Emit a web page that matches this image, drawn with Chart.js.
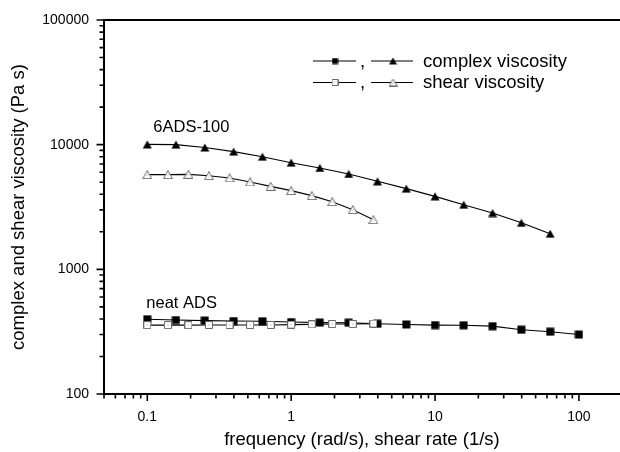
<!DOCTYPE html>
<html>
<head>
<meta charset="utf-8">
<script src="https://cdn.jsdelivr.net/npm/chart.js@4"></script>
<style>
  html, body { margin: 0; padding: 0; background: #fff; overflow: hidden; }
  #wrap { width: 620px; height: 452px; }
</style>
</head>
<body>
<div id="wrap"><canvas id="chart" width="620" height="452"></canvas></div>
<script>
// oscillatory frequency sweep (complex viscosity)
const freq6ADS = [0.1, 0.158, 0.251, 0.398, 0.631, 1, 1.58, 2.51, 3.98, 6.31, 10, 15.8, 25.1, 39.8, 63.1];
const complex6ADS = [10050, 10000, 9500, 8800, 8000, 7170, 6500, 5820, 5080, 4440, 3850, 3300, 2830, 2360, 1930];

const freqNeat = [0.1, 0.158, 0.251, 0.398, 0.631, 1, 1.58, 2.51, 3.98, 6.31, 10, 15.8, 25.1, 39.8, 63.1, 100];
const complexNeat = [398, 392, 388, 385, 383, 378, 374, 373, 366, 361, 357, 356, 350, 328, 316, 300];

// steady shear (shear viscosity)
const shearRate = [0.1, 0.139, 0.193, 0.268, 0.373, 0.518, 0.72, 1, 1.39, 1.93, 2.68, 3.73];
const shear6ADS = [5750, 5750, 5780, 5640, 5410, 5020, 4630, 4280, 3900, 3490, 3010, 2500];
const shearNeat = [357, 357, 357, 358, 358, 358, 358, 360, 362, 364, 364, 367];

const seriesLabels = ['complex viscosity', 'shear viscosity'];
const sampleLabels = ['6ADS-100', 'neat ADS'];

const X_MIN = 0.05, X_MAX = 193, Y_MIN = 100, Y_MAX = 100000;
const FONT = "'Liberation Sans', Arial, Helvetica, sans-serif";

function isMajor(v) {
  const l = Math.log10(v);
  return Math.abs(l - Math.round(l)) < 1e-9;
}

function logTicks(min, max) {
  const out = [];
  for (let e = Math.floor(Math.log10(min)); e <= Math.ceil(Math.log10(max)); e++) {
    for (let m = 1; m <= 9; m++) {
      const v = +(m * Math.pow(10, e)).toPrecision(6);
      if (v >= min * 0.9999 && v <= max * 1.0001) out.push({ value: v });
    }
  }
  return out;
}

// little canvases used as point styles
function makeMarker(shape, open, size) {
  const c = document.createElement('canvas');
  const tri = shape === 'tri';
  const h = tri ? Math.round(size * 0.9) : size;
  c.width = size; c.height = h;
  const g = c.getContext('2d');
  g.beginPath();
  if (tri) {
    g.moveTo(size / 2, 0.5);
    g.lineTo(size - 0.5, h - 0.5);
    g.lineTo(0.5, h - 0.5);
    g.closePath();
  } else {
    g.rect(0.5, 0.5, size - 1, size - 1);
  }
  if (open) {
    g.fillStyle = '#fff';
    g.fill();
    g.strokeStyle = '#6a6a6a';
    g.lineWidth = 1;
    g.stroke();
    g.fillStyle = '#888';
    const cy = tri ? h * 0.65 : h / 2;
    g.fillRect(Math.floor(size / 2) - 0.5, Math.floor(cy) - 0.5, 1, 1);
  } else {
    g.fillStyle = '#000';
    g.fill();
  }
  return c;
}

const mkFilledSq = makeMarker('sq', false, 9);
const mkFilledTri = makeMarker('tri', false, 10);
const mkOpenSq = makeMarker('sq', true, 8);
const mkOpenTri = makeMarker('tri', true, 10);

function toXY(xs, ys) {
  return xs.map((x, i) => ({ x: x, y: ys[i] }));
}

function series(xs, ys, marker) {
  return {
    data: toXY(xs, ys),
    borderColor: '#000',
    borderWidth: 1.1,
    pointStyle: marker,
    pointRadius: 5,
    tension: 0,
    fill: false
  };
}

const annotate = {
  id: 'annotate',
  afterDraw(chart) {
    const { ctx, chartArea: a, scales: { x, y } } = chart;
    ctx.save();

    // top frame line
    ctx.strokeStyle = '#000';
    ctx.lineWidth = 2;
    ctx.beginPath();
    ctx.moveTo(a.left - 1, a.top);
    ctx.lineTo(a.right, a.top);
    ctx.stroke();

    // tick marks, outward
    ctx.lineWidth = 1.6;
    ctx.beginPath();
    x.ticks.forEach(t => {
      const px = x.getPixelForValue(t.value);
      const len = isMajor(t.value) ? 7 : 4.5;
      ctx.moveTo(px, a.bottom);
      ctx.lineTo(px, a.bottom + len);
    });
    y.ticks.forEach(t => {
      const py = y.getPixelForValue(t.value);
      const len = isMajor(t.value) ? 7.5 : 4.5;
      ctx.moveTo(a.left, py);
      ctx.lineTo(a.left - len, py);
    });
    ctx.stroke();

    // sample labels
    ctx.fillStyle = '#000';
    ctx.font = '16.5px ' + FONT;
    ctx.textBaseline = 'alphabetic';
    ctx.textAlign = 'left';
    ctx.fillText(sampleLabels[0], x.getPixelForValue(freq6ADS[0]) + 6, y.getPixelForValue(complex6ADS[0]) - 12);
    ctx.fillText(sampleLabels[1], x.getPixelForValue(freqNeat[0]) - 1, y.getPixelForValue(complexNeat[0]) - 11);

    // legend
    const rows = [
      { y: 61, a: makeMarker('sq', false, 7), b: makeMarker('tri', false, 9), text: seriesLabels[0] },
      { y: 82.5, a: makeMarker('sq', true, 7), b: makeMarker('tri', true, 9), text: seriesLabels[1] }
    ];
    ctx.font = '18.5px ' + FONT;
    rows.forEach(r => {
      ctx.lineWidth = 1.1;
      ctx.beginPath();
      ctx.moveTo(313, r.y); ctx.lineTo(356, r.y);
      ctx.moveTo(371, r.y); ctx.lineTo(413, r.y);
      ctx.stroke();
      ctx.drawImage(r.a, 335 - r.a.width / 2, r.y - r.a.height / 2);
      ctx.drawImage(r.b, 393 - r.b.width / 2, r.y - r.b.height / 2);
      ctx.textAlign = 'center';
      ctx.fillText(',', 362.5, r.y + 5.5);
      ctx.textAlign = 'left';
      ctx.fillText(r.text, 423, r.y + 5.5);
    });
    ctx.restore();
  }
};

new Chart(document.getElementById('chart'), {
  type: 'line',
  data: {
    datasets: [
      series(shearRate, shearNeat, mkOpenSq),
      series(shearRate, shear6ADS, mkOpenTri),
      series(freqNeat, complexNeat, mkFilledSq),
      series(freq6ADS, complex6ADS, mkFilledTri)
    ]
  },
  options: {
    responsive: false,
    animation: false,
    layout: { autoPadding: false, padding: { top: 20, right: 0, bottom: 0, left: 0 } },
    plugins: { legend: { display: false }, tooltip: { enabled: false } },
    scales: {
      x: {
        type: 'logarithmic',
        min: X_MIN,
        max: X_MAX,
        afterBuildTicks: s => { s.ticks = logTicks(X_MIN, X_MAX); },
        afterFit: s => { s.height = 58; s.paddingLeft = 0; s.paddingRight = 0; },
        grid: { display: false, drawTicks: false },
        border: { display: true, color: '#000', width: 2 },
        ticks: {
          autoSkip: false,
          maxRotation: 0,
          padding: 15,
          color: '#000',
          font: { size: 14, family: FONT },
          callback: v => isMajor(v) ? String(v) : ''
        },
        title: {
          display: true,
          text: 'frequency (rad/s), shear rate (1/s)',
          color: '#000',
          font: { size: 18.5, family: FONT },
          padding: { top: 0, bottom: 1 }
        }
      },
      y: {
        type: 'logarithmic',
        min: Y_MIN,
        max: Y_MAX,
        afterBuildTicks: s => { s.ticks = logTicks(Y_MIN, Y_MAX); },
        afterFit: s => { s.width = 104; s.paddingTop = 0; s.paddingBottom = 0; },
        grid: { display: false, drawTicks: false },
        border: { display: true, color: '#000', width: 2 },
        ticks: {
          autoSkip: false,
          padding: 15,
          color: '#000',
          font: { size: 14, family: FONT },
          callback: v => isMajor(v) ? String(v) : ''
        },
        title: {
          display: true,
          text: 'complex and shear viscosity (Pa s)',
          color: '#000',
          font: { size: 18.5, family: FONT },
          padding: { top: 8, bottom: 0 }
        }
      }
    }
  },
  plugins: [annotate]
});
</script>
</body>
</html>
